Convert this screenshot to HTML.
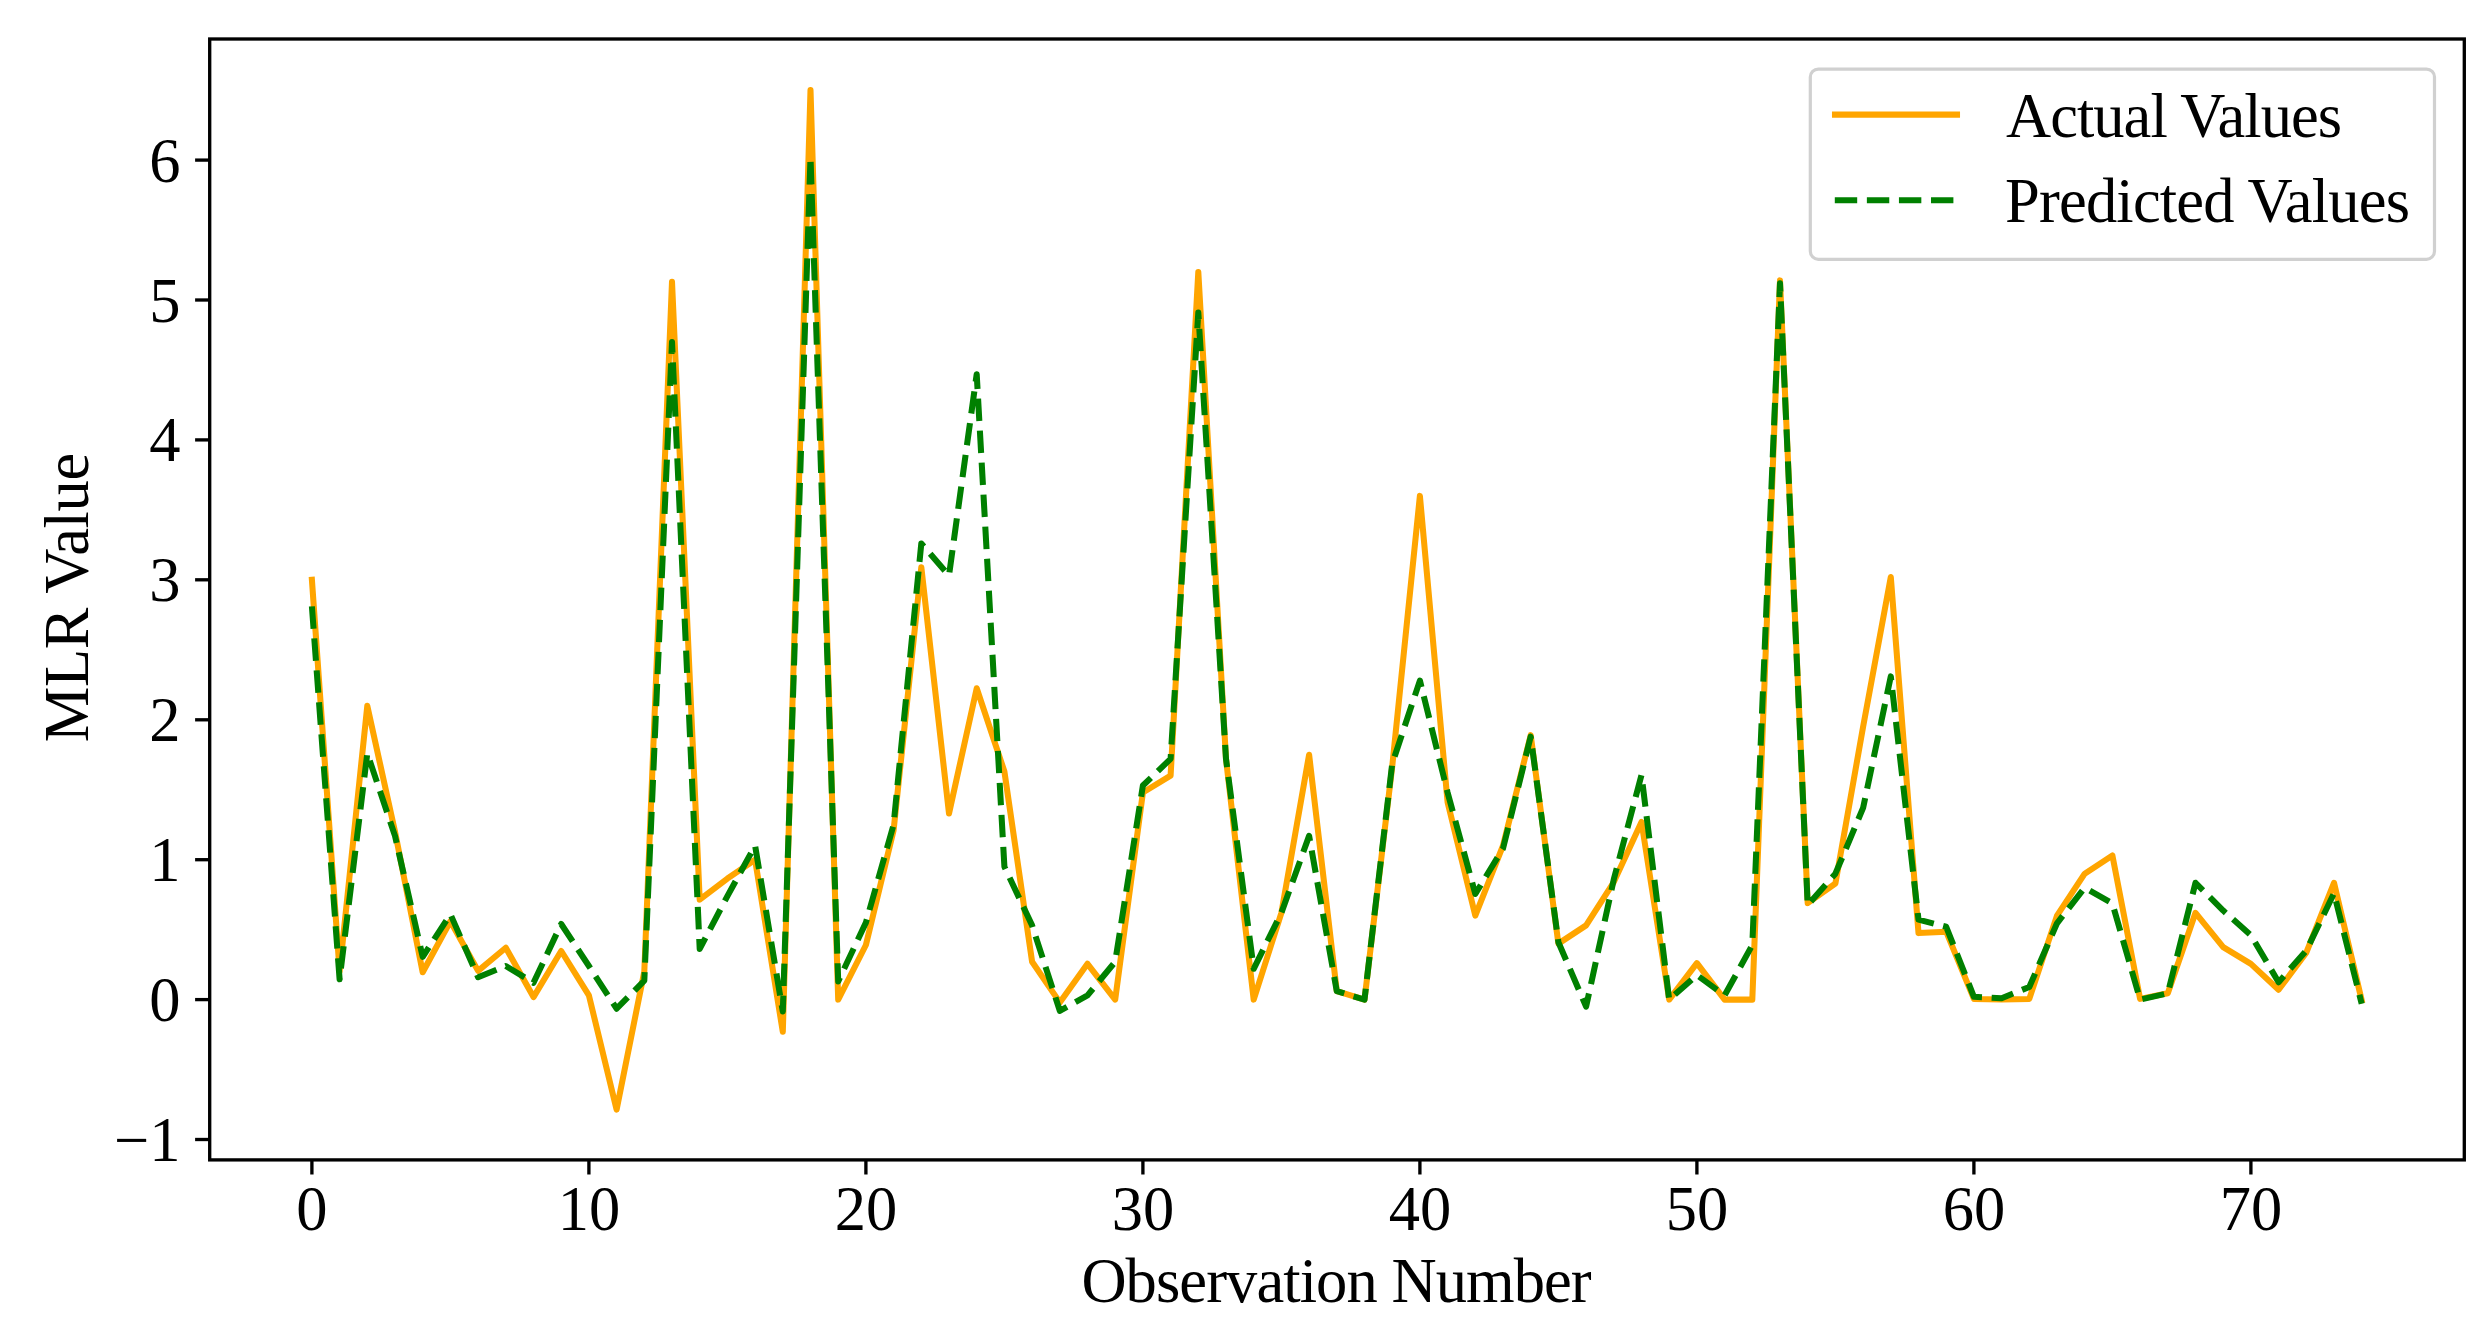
<!DOCTYPE html>
<html lang="en"><head><meta charset="utf-8"><title>MLR Actual vs Predicted Values</title>
<style>
html,body{margin:0;padding:0;background:#fff;}
body{width:2492px;height:1335px;overflow:hidden;}
svg{display:block;filter:blur(0.7px);}
text{font-family:"Liberation Serif","Times New Roman",serif;font-size:62.5px;fill:#000;}
</style></head><body>
<svg width="2492" height="1335" viewBox="0 0 2492 1335">
<rect x="0" y="0" width="2492" height="1335" fill="#ffffff"/>
<polyline points="311.9,579.8 339.6,971.6 367.3,705.8 395.0,831.7 422.7,972.3 450.4,921.2 478.1,970.9 505.8,947.8 533.5,997.1 561.2,951.0 588.9,995.4 616.6,1109.6 644.3,971.6 672.0,281.8 699.7,899.6 727.4,878.6 755.1,859.7 782.8,1031.8 810.5,90.1 838.2,999.6 865.9,945.0 893.6,830.3 921.3,567.2 949.0,813.5 976.7,688.3 1004.4,771.5 1032.1,961.8 1059.8,1002.4 1087.5,963.8 1115.2,999.6 1142.9,792.5 1170.6,775.7 1198.3,272.0 1226.0,758.9 1253.7,999.6 1281.4,912.8 1309.1,754.7 1336.8,991.2 1364.5,999.6 1392.2,766.6 1419.9,495.9 1447.6,802.3 1475.3,915.6 1503.0,845.7 1530.7,735.2 1558.4,943.6 1586.1,925.4 1613.8,882.1 1641.5,821.9 1669.2,999.6 1696.9,963.2 1724.6,999.6 1752.3,999.6 1780.0,280.4 1807.7,903.1 1835.4,883.5 1863.1,726.8 1890.8,577.0 1918.5,933.1 1946.2,931.7 1973.9,998.9 2001.6,999.6 2029.3,998.9 2057.0,915.6 2084.7,873.7 2112.4,855.5 2140.1,998.9 2167.8,993.3 2195.5,912.8 2223.2,947.1 2250.9,963.9 2278.6,989.8 2306.3,952.7 2334.0,882.8 2361.7,1000.3" fill="none" stroke="#ffa500" stroke-width="6.05" stroke-linejoin="round" stroke-linecap="square"/>
<polyline points="311.9,606.4 339.6,979.3 367.3,753.3 395.0,835.9 422.7,956.9 450.4,914.2 478.1,977.2 505.8,966.0 533.5,982.8 561.2,924.0 588.9,966.0 616.6,1008.7 644.3,980.7 672.0,342.0 699.7,948.9 727.4,896.1 755.1,845.7 782.8,1011.5 810.5,157.3 838.2,981.4 865.9,922.6 893.6,824.7 921.3,543.5 949.0,575.6 976.7,374.2 1004.4,866.7 1032.1,925.4 1059.8,1010.8 1087.5,995.4 1115.2,961.8 1142.9,785.5 1170.6,758.9 1198.3,312.6 1226.0,758.9 1253.7,968.8 1281.4,912.8 1309.1,835.9 1336.8,991.2 1364.5,999.6 1392.2,763.8 1419.9,680.6 1447.6,792.5 1475.3,894.0 1503.0,848.5 1530.7,736.6 1558.4,942.2 1586.1,1006.6 1613.8,879.3 1641.5,775.0 1669.2,999.6 1696.9,975.1 1724.6,995.4 1752.3,945.0 1780.0,283.2 1807.7,905.2 1835.4,873.7 1863.1,807.9 1890.8,676.4 1918.5,919.6 1946.2,926.8 1973.9,996.8 2001.6,998.2 2029.3,987.0 2057.0,923.3 2084.7,887.7 2112.4,903.5 2140.1,999.6 2167.8,993.3 2195.5,882.8 2223.2,910.6 2250.9,935.2 2278.6,982.2 2306.3,950.6 2334.0,893.3 2361.7,1003.8" fill="none" stroke="#008000" stroke-width="6.05" stroke-linejoin="round" stroke-linecap="butt" stroke-dasharray="22.39 9.68"/>
<rect x="209.7" y="39.0" width="2254.6000000000004" height="1120.9" fill="none" stroke="#000" stroke-width="3.33" stroke-linejoin="miter"/>
<g stroke="#000" stroke-width="3.33" fill="none">
<line x1="311.9" y1="1159.9" x2="311.9" y2="1174.5"/>
<line x1="588.9" y1="1159.9" x2="588.9" y2="1174.5"/>
<line x1="865.9" y1="1159.9" x2="865.9" y2="1174.5"/>
<line x1="1142.9" y1="1159.9" x2="1142.9" y2="1174.5"/>
<line x1="1419.9" y1="1159.9" x2="1419.9" y2="1174.5"/>
<line x1="1696.9" y1="1159.9" x2="1696.9" y2="1174.5"/>
<line x1="1973.9" y1="1159.9" x2="1973.9" y2="1174.5"/>
<line x1="2250.9" y1="1159.9" x2="2250.9" y2="1174.5"/>
<line x1="209.7" y1="1139.5" x2="195.1" y2="1139.5"/>
<line x1="209.7" y1="999.6" x2="195.1" y2="999.6"/>
<line x1="209.7" y1="859.7" x2="195.1" y2="859.7"/>
<line x1="209.7" y1="719.8" x2="195.1" y2="719.8"/>
<line x1="209.7" y1="579.8" x2="195.1" y2="579.8"/>
<line x1="209.7" y1="439.9" x2="195.1" y2="439.9"/>
<line x1="209.7" y1="300.0" x2="195.1" y2="300.0"/>
<line x1="209.7" y1="160.1" x2="195.1" y2="160.1"/>
</g>
<g text-anchor="middle">
<text x="311.9" y="1229.7">0</text>
<text x="588.9" y="1229.7">10</text>
<text x="865.9" y="1229.7">20</text>
<text x="1142.9" y="1229.7">30</text>
<text x="1419.9" y="1229.7">40</text>
<text x="1696.9" y="1229.7">50</text>
<text x="1973.9" y="1229.7">60</text>
<text x="2250.9" y="1229.7">70</text>
</g>
<g text-anchor="end">
<text x="180.5" y="1161.0">−1</text>
<text x="180.5" y="1021.1">0</text>
<text x="180.5" y="881.2">1</text>
<text x="180.5" y="741.3">2</text>
<text x="180.5" y="601.3">3</text>
<text x="180.5" y="461.4">4</text>
<text x="180.5" y="321.5">5</text>
<text x="180.5" y="181.6">6</text>
</g>
<text x="1336.1" y="1302" text-anchor="middle" style="letter-spacing:-0.92px">Observation Number</text>
<text transform="translate(87.6,597.7) rotate(-90)" text-anchor="middle" style="letter-spacing:-0.34px">MLR Value</text>
<rect x="1810.3" y="69.1" width="624.2" height="190.2" rx="8" ry="8" fill="#ffffff" fill-opacity="0.8" stroke="#d0d0d0" stroke-width="3.2"/>
<line x1="1835" y1="114.6" x2="1957" y2="114.6" stroke="#ffa500" stroke-width="6.05" stroke-linecap="square"/>
<line x1="1834.8" y1="200.3" x2="1959.8" y2="200.3" stroke="#008000" stroke-width="6.05" stroke-dasharray="22.39 9.68"/>
<text x="2006" y="136.5" style="letter-spacing:-0.97px">Actual Values</text>
<text x="2005" y="221.9" style="letter-spacing:-0.81px">Predicted Values</text>
</svg>
</body></html>
